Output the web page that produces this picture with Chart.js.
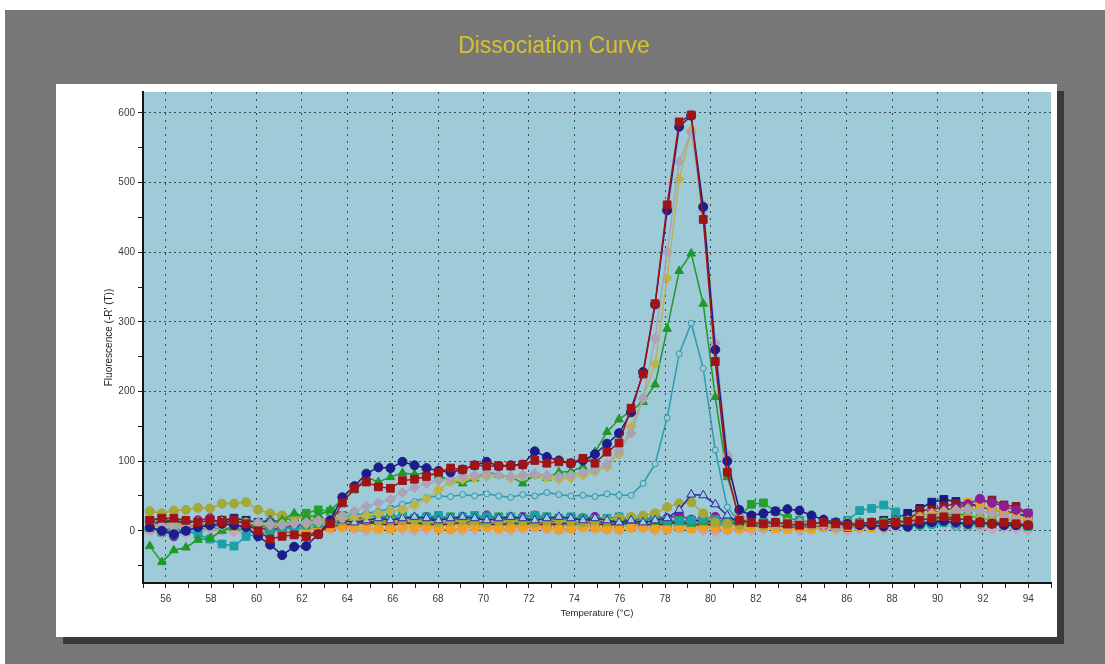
<!DOCTYPE html>
<html>
<head>
<meta charset="utf-8">
<title>Dissociation Curve</title>
<script src="https://cdn.jsdelivr.net/npm/chart.js@4.4.1/dist/chart.umd.min.js"></script>
<style>
  html, body { margin: 0; padding: 0; background: #ffffff; }
  #wrap { width: 1105px; height: 664px; }
</style>
</head>
<body>
<div id="wrap"><canvas id="meltChart" width="1105" height="664"></canvas></div>
<script>
// temperature of each read (°C)
const temps = [
  55.30, 55.83, 56.36, 56.89, 57.42, 57.95, 58.48, 59.01, 59.54, 60.07,
  60.60, 61.13, 61.66, 62.19, 62.72, 63.25, 63.78, 64.31, 64.84, 65.37,
  65.90, 66.43, 66.96, 67.49, 68.02, 68.55, 69.08, 69.61, 70.14, 70.67,
  71.20, 71.73, 72.26, 72.79, 73.32, 73.85, 74.38, 74.91, 75.44, 75.97,
  76.50, 77.03, 77.56, 78.09, 78.62, 79.15, 79.68, 80.21, 80.74, 81.27,
  81.80, 82.33, 82.86, 83.39, 83.92, 84.45, 84.98, 85.51, 86.04, 86.57,
  87.10, 87.63, 88.16, 88.69, 89.22, 89.75, 90.28, 90.81, 91.34, 91.87,
  92.40, 92.93, 93.46, 93.99
];

const xTickValues = [55, 56, 57, 58, 59, 60, 61, 62, 63, 64, 65, 66, 67, 68, 69, 70,
  71, 72, 73, 74, 75, 76, 77, 78, 79, 80, 81, 82, 83, 84, 85, 86, 87, 88, 89, 90,
  91, 92, 93, 94, 95];
const yTickValues = [-50, 0, 50, 100, 150, 200, 250, 300, 350, 400, 450, 500, 550, 600];

// -R'(T) per well
const redSquares = [
  15, 18, 18, 15, 12, 15, 12, 15, 10, 0,
  -12, -8, -6, -8, -5, 10, 40, 61, 70, 63,
  61, 72, 74, 78, 84, 90, 88, 94, 93, 93,
  93, 95, 101, 97, 99, 97, 104, 97, 113, 126,
  176, 225, 326, 468, 587, 597, 447, 243, 84, 15,
  12, 10, 12, 10, 8, 10, 12, 10, 8, 10,
  12, 10, 12, 14, 15, 18, 20, 18, 15, 12,
  10, 12, 10, 8
];
const navyCircles = [
  5, 0, -5, 0, 5, 8, 10, 8, 5, -8,
  -20, -35, -23, -22, -5, 15, 48, 64, 82, 91,
  90, 99, 94, 90, 86, 84, 88, 94, 99, 93,
  94, 95, 114, 106, 101, 97, 101, 110, 125, 140,
  170, 228, 325, 460, 580, 596, 465, 260, 100, 30,
  22, 25, 28, 31, 29, 22, 16, 12, 10, 8,
  8, 6, 8, 6, 10, 12, 14, 12, 10, 12,
  10, 8, 8, 8
];
const khakiDiamonds = [
  8, 5, 10, 8, 12, 10, 8, 10, 12, 10,
  8, 10, 12, 10, 12, 15, 18, 20, 22, 25,
  28, 30, 37, 46, 59, 70, 74, 76, 78, 80,
  76, 78, 80, 76, 74, 76, 80, 85, 92, 110,
  149, 190, 240, 363, 505, 575, 468, 269, 106, 20,
  15, 10, 12, 10, 8, 10, 8, 10, 12, 10,
  8, 10, 12, 15, 20, 25, 28, 30, 32, 30,
  25, 20, 15, 12
];
const grayDiamonds = [
  10, 8, 5, 8, 10, 12, 10, 8, 10, 12,
  10, 8, 10, 12, 15, 18, 22, 28, 35, 40,
  45, 55, 62, 68, 72, 75, 78, 80, 82, 80,
  78, 80, 82, 80, 78, 80, 84, 88, 96, 115,
  140, 190, 276, 400, 530, 572, 460, 270, 110, 25,
  12, 10, 8, 10, 12, 10, 8, 6, 8, 10,
  8, 10, 12, 10, 15, 20, 25, 28, 30, 28,
  25, 20, 15, 10
];
const greenTriangles = [
  -22, -45, -28, -24, -13, -11, 0, 5, 8, 10,
  12, 15, 25, 20, 22, 30, 44, 58, 77, 70,
  77, 83, 81, 83, 79, 72, 68, 75, 85, 80,
  78, 68, 80, 76, 84, 85, 92, 113, 142, 160,
  172, 185, 210, 290, 373, 398, 326, 192, 77, 25,
  10, 12, 10, 8, 10, 12, 10, 8, 10, 8,
  10, 12, 10, 8, 10, 12, 15, 12, 10, 12,
  10, 8, 10, 8
];
const tealOpenCircles = [
  5, 8, 5, 10, 8, 5, 8, 10, 8, 5,
  8, 10, 12, 10, 12, 15, 18, 22, 25, 28,
  32, 38, 42, 48, 50, 49, 52, 50, 53, 50,
  48, 52, 50, 55, 52, 50, 51, 49, 53, 51,
  51, 68, 96, 162, 254, 298, 233, 116, 34, 12,
  10, 8, 10, 8, 6, 8, 10, 8, 6, 8,
  10, 8, 6, 8, 10, 8, 10, 12, 10, 8,
  10, 8, 6, 8
];
const navyOpenTriangles = [
  10, 12, 15, 12, 10, 12, 15, 12, 10, 12,
  15, 12, 10, 12, 15, 18, 15, 12, 15, 18,
  15, 18, 20, 18, 15, 18, 20, 18, 15, 18,
  20, 18, 15, 18, 20, 18, 15, 18, 15, 12,
  15, 12, 15, 18, 30, 52, 51, 38, 22, 12,
  10, 12, 10, 8, 10, 12, 10, 8, 10, 12,
  10, 12, 15, 12, 10, 12, 15, 18, 15, 12,
  10, 12, 10, 8
];
const oliveCircles = [
  28, 25, 29, 30, 33, 32, 39, 39, 41, 30,
  25, 22, 20, 18, 16, 15, 14, 15, 16, 15,
  14, 16, 15, 14, 12, 14, 15, 14, 12, 14,
  15, 14, 12, 14, 15, 14, 12, 14, 15, 18,
  20, 22, 25, 34, 39, 41, 25, 12, 10, 8,
  10, 8, 10, 12, 10, 8, 10, 8, 10, 12,
  10, 12, 10, 12, 15, 18, 20, 22, 20, 18,
  15, 12, 10, 8
];
const tealSquares = [
  5, -2, -5, 0, -5, -12, -19, -22, -8, -5,
  0, 2, 5, 8, 10, 12, 15, 18, 20, 22,
  20, 22, 18, 20, 22, 18, 20, 22, 20, 18,
  20, 18, 22, 20, 18, 20, 18, 16, 18, 20,
  18, 16, 18, 15, 14, 15, 18, 16, 14, 12,
  14, 12, 10, 12, 14, 12, 10, 12, 15, 29,
  32, 37, 27, 15, 12, 10, 12, 10, 8, 10,
  12, 10, 8, 6
];
const greenSquares = [
  12, 15, 12, 10, 8, 10, 12, 15, 12, 10,
  12, 15, 18, 25, 30, 28, 22, 20, 18, 15,
  18, 20, 18, 15, 18, 20, 18, 16, 18, 20,
  18, 16, 18, 20, 18, 15, 18, 16, 14, 15,
  16, 18, 15, 14, 15, 12, 14, 15, 12, 20,
  38, 40, 28, 18, 15, 12, 10, 12, 10, 12,
  10, 12, 15, 12, 10, 15, 20, 25, 22, 18,
  15, 12, 10, 8
];
const purpleCircles = [
  12, 8, -8, 5, 15, 18, 10, 12, 8, 5,
  0, 2, 8, 10, 12, 15, 18, 20, 15, 18,
  20, 16, 18, 20, 18, 16, 20, 18, 22, 18,
  16, 20, 22, 18, 16, 15, 18, 20, 16, 15,
  18, 16, 20, 18, 22, 16, 18, 20, 15, 16,
  12, 14, 12, 10, 12, 10, 8, 10, 8, 10,
  12, 10, 12, 14, 20, 25, 30, 32, 38, 46,
  40, 35, 30, 25
];
const orangeSquares = [
  10, 12, 8, 6, 5, 8, 10, 6, 4, 2,
  0, -2, -5, 0, 5, 4, 6, 5, 4, 3,
  2, 5, 4, 6, 3, 2, 4, 6, 5, 3,
  4, 5, 6, 4, 2, 3, 5, 4, 3, 2,
  4, 5, 3, 2, 4, 3, 5, 4, 2, 3,
  4, 5, 3, 2, 4, 3, 5, 4, 6, 5,
  4, 6, 8, 12, 20, 25, 22, 30, 41, 38,
  30, 28, 22, 15
];
const maroonSquares = [
  15, 18, 12, 10, 8, 12, 15, 10, 12, 8,
  5, 0, -5, -8, 0, 5, 8, 10, 12, 10,
  8, 10, 12, 10, 8, 10, 12, 14, 10, 8,
  10, 12, 10, 8, 10, 12, 14, 10, 8, 10,
  12, 10, 8, 10, 12, 10, 8, 10, 12, 10,
  8, 6, 8, 6, 5, 6, 8, 6, 5, 6,
  8, 10, 12, 15, 29, 30, 35, 39, 35, 40,
  44, 37, 35, 25
];
const tealCircles = [
  2, 0, 5, -2, 0, 5, 2, 5, 0, 2,
  5, 8, 5, 2, 5, 8, 10, 12, 15, 12,
  10, 12, 10, 8, 10, 12, 10, 8, 10, 12,
  10, 8, 10, 12, 8, 10, 8, 10, 12, 8,
  10, 8, 10, 12, 10, 8, 10, 8, 10, 12,
  8, 10, 8, 6, 8, 10, 8, 6, 8, 5,
  8, 10, 8, 6, 8, 10, 12, 8, 10, 8,
  12, 10, 8, 6
];
const navySquares = [
  5, 10, 12, 8, 10, 12, 15, 18, 15, 12,
  10, 8, 10, 12, 15, 12, 14, 15, 12, 14,
  15, 18, 16, 14, 15, 18, 16, 14, 12, 15,
  18, 16, 14, 12, 15, 18, 16, 14, 12, 14,
  16, 18, 15, 14, 12, 15, 14, 12, 10, 12,
  14, 12, 10, 12, 10, 8, 10, 12, 10, 8,
  12, 15, 18, 25, 32, 41, 45, 42, 38, 35,
  30, 28, 25, 20
];
const pinkDiamonds = [
  0, -5, -8, -5, 0, 2, 0, -2, 0, 2,
  0, -2, 0, 2, 0, 2, 4, 2, 0, 2,
  4, 2, 0, 2, 4, 2, 0, 2, 4, 2,
  0, 2, 4, 2, 0, 2, 4, 2, 0, 2,
  4, 2, 0, 2, 4, 2, 0, -2, 0, 2,
  0, 2, 4, 2, 0, 2, 4, 2, 0, 2,
  4, 2, 5, 8, 10, 12, 10, 8, 6, 4,
  2, 4, 2, 0
];
const amberTriangles = [
  8, 10, 12, 10, 8, 6, 8, 10, 8, 6,
  5, 6, 8, 10, 12, 14, 12, 10, 8, 10,
  12, 10, 8, 6, 8, 10, 8, 6, 8, 10,
  8, 6, 8, 10, 8, 6, 8, 10, 8, 6,
  8, 10, 8, 6, 8, 6, 4, 6, 8, 6,
  5, 6, 8, 6, 5, 4, 6, 8, 6, 5,
  6, 8, 10, 12, 15, 18, 22, 28, 32, 30,
  25, 18, 12, 8
];

const plotBlue = "#9fcad8";

function makeSet(label, values, color, style, radius, hollow) {
  return {
    label: label,
    data: values.map((v, i) => ({ x: temps[i], y: v })),
    borderColor: color,
    backgroundColor: hollow ? "rgba(0,0,0,0)" : color,
    pointBorderColor: color,
    pointBackgroundColor: hollow ? plotBlue : color,
    pointStyle: style,
    pointRadius: radius,
    pointBorderWidth: 1,
    borderWidth: 1.5,
    tension: 0,
  };
}

const datasets = [
  makeSet("A1", redSquares, "#a01418", "rect", 5.5, false),
  makeSet("A2", navyCircles, "#1c1c8c", "circle", 4.5, false),
  makeSet("A3", grayDiamonds, "#aaa2b6", "rectRot", 5, false),
  makeSet("A4", khakiDiamonds, "#bcb44a", "rectRot", 5, false),
  makeSet("A5", greenTriangles, "#1e9a2a", "triangle", 5, false),
  makeSet("A6", tealOpenCircles, "#2c9cb0", "circle", 3, true),
  makeSet("A7", navyOpenTriangles, "#2a2aa0", "triangle", 5, true),
  makeSet("A8", oliveCircles, "#a4a836", "circle", 4.5, false),
  makeSet("A9", tealSquares, "#1aa0a6", "rect", 5.5, false),
  makeSet("A10", greenSquares, "#26a02c", "rect", 5.5, false),
  makeSet("A11", purpleCircles, "#8a1e9c", "circle", 4.5, false),
  makeSet("A12", orangeSquares, "#f0a024", "rect", 5.5, false),
  makeSet("A13", maroonSquares, "#861a1a", "rect", 5.5, false),
  makeSet("A14", navySquares, "#1a1a7c", "rect", 5.5, false),
  makeSet("A15", pinkDiamonds, "#c8a4b8", "rectRot", 5, false),
  makeSet("A16", amberTriangles, "#d8a830", "triangle", 5, false),
  makeSet("A17", tealCircles, "#1aa0a0", "circle", 5, false),
];

// gray page, white card with shadow, blue plot area
const pageBackground = {
  id: "pageBackground",
  beforeDraw(chart) {
    const ctx = chart.ctx;
    const a = chart.chartArea;
    ctx.save();
    ctx.fillStyle = "#ffffff";
    ctx.fillRect(0, 0, chart.width, chart.height);
    ctx.fillStyle = "#777777";
    ctx.fillRect(5, 10, chart.width - 5, chart.height - 10);
    ctx.fillStyle = "#3a3a3a";
    ctx.fillRect(63, 91, 1001, 553);
    ctx.fillStyle = "#ffffff";
    ctx.fillRect(56, 84, 1001, 553);
    ctx.fillStyle = plotBlue;
    ctx.fillRect(a.left, a.top, a.right - a.left, a.bottom - a.top);
    ctx.restore();
  },
};

const tickFont = { family: "'Liberation Sans', Arial, sans-serif", size: 10 };
const dotted = "rgba(40,52,60,0.85)";

new Chart(document.getElementById("meltChart").getContext("2d"), {
  type: "line",
  data: { datasets: datasets },
  options: {
    responsive: false,
    animation: false,
    devicePixelRatio: 1,
    layout: { padding: { left: 57, right: 54, top: 10, bottom: 31 } },
    plugins: {
      legend: { display: false },
      tooltip: { enabled: false },
      title: {
        display: true,
        text: "Dissociation Curve",
        color: "#d8c22c",
        font: { family: "'Liberation Sans', Arial, sans-serif", size: 23, weight: "normal" },
        padding: { top: 23, bottom: 31.4 },
      },
    },
    scales: {
      x: {
        type: "linear",
        min: 55,
        max: 95,
        afterBuildTicks: (axis) => {
          axis.ticks = xTickValues.map((v) => ({ value: v }));
        },
        afterFit: (scale) => {
          scale.height = 50;
        },
        ticks: {
          autoSkip: false,
          maxRotation: 0,
          padding: 5,
          color: "#3a3a3a",
          font: tickFont,
          callback: (v) => (v % 2 === 0 ? String(v) : ""),
        },
        grid: {
          color: (ctx) =>
            ctx.tick && ctx.tick.value % 2 === 0 ? dotted : "rgba(0,0,0,0)",
          tickColor: "#1a1a1a",
          tickLength: 5,
          lineWidth: 1,
        },
        border: { display: true, color: "#151515", width: 2, dash: [2, 5] },
        title: {
          display: true,
          text: "Temperature (°C)",
          color: "#222222",
          font: { family: "'Liberation Sans', Arial, sans-serif", size: 9.5 },
          padding: { top: 0, bottom: 14 },
        },
      },
      y: {
        type: "linear",
        min: -75,
        max: 630,
        afterBuildTicks: (axis) => {
          axis.ticks = yTickValues.map((v) => ({ value: v }));
        },
        afterFit: (scale) => {
          scale.width = 86;
        },
        ticks: {
          autoSkip: false,
          padding: 3,
          color: "#3a3a3a",
          font: tickFont,
          callback: (v) => (v % 100 === 0 ? String(v) : ""),
        },
        grid: {
          color: (ctx) =>
            ctx.tick && ctx.tick.value % 100 === 0 ? dotted : "rgba(0,0,0,0)",
          tickColor: "#1a1a1a",
          tickLength: 5,
          lineWidth: 1,
        },
        border: { display: true, color: "#151515", width: 2, dash: [2, 3] },
        title: {
          display: true,
          text: "Fluorescence (-R' (T))",
          color: "#222222",
          font: { family: "'Liberation Sans', Arial, sans-serif", size: 10 },
          padding: { top: 46, bottom: 0 },
        },
      },
    },
  },
  plugins: [pageBackground],
});
</script>
</body>
</html>
